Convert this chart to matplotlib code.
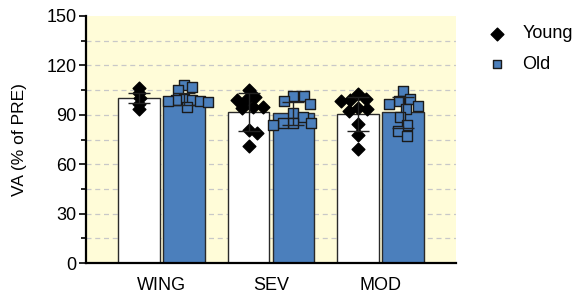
import numpy as np
import matplotlib.pyplot as plt

plt.rcParams['font.family'] = ['Liberation Sans', 'DejaVu Sans']

# Data
groups = ['WING', 'SEV', 'MOD']
young_mean = [100, 91.5, 90.5]
young_sd = [3, 11.5, 10.5]
old_mean = [99.5, 91, 91.5]
old_sd = [3.5, 7, 9.5]

young_pts = [
    [106.5, 103.2, 100, 96.8, 93.5],
    [105, 101, 99, 99, 95, 95, 94, 81, 79, 71],
    [102.4, 99.6, 99, 98.4, 94.3, 93.5, 92.3, 84.2, 77.7, 69.2],
]
old_pts = [
    [108, 107, 105, 99.6, 99, 99, 98.4, 98.4, 98, 95],
    [101.6, 101.6, 98.4, 96.3, 91.3, 88.9, 84.8, 84.8, 84.8, 83.8],
    [104.4, 99.6, 98.4, 96.3, 95.5, 93.5, 88.5, 83.8, 80.1, 77.1],
]

blue = '#4b7fbc'
bar_w = 0.38
off = 0.205
px_x = 109.5   # pixels per x unit
px_y = 1.647   # pixels per y unit
# spacing of the scatter points (pixels), per group
d_young = [5.3, 9.5, 9.5]
d_old = [8.0, 10.5, 10.5]


def swarm(vals, d=5.3):
    # beeswarm: each point goes to the nearest free x offset (in pixels)
    placed = []
    for v in vals:
        yp = v * px_y
        cands = [0.0]
        for xq, yq in placed:
            dy = abs(yp - yq)
            if dy < d:
                dx = np.sqrt(d * d - dy * dy)
                cands += [xq + dx, xq - dx]
        cands.sort(key=abs)
        for c in cands:
            if all((c - xq) ** 2 + (yp - yq) ** 2 >= d * d - 1e-6 for xq, yq in placed):
                placed.append((c, yp))
                break
    return np.array([p[0] for p in placed]) / px_x


fig = plt.figure(figsize=(5.81, 2.96), dpi=100)
ax = fig.add_axes([86 / 581, 33 / 296, 370 / 581, 247 / 296])
ax.set_facecolor('#fffcd8')

x = np.arange(len(groups))
ax.bar(x - off, young_mean, bar_w, color='white', edgecolor='#2a2a2a', linewidth=1, zorder=2)
ax.bar(x + off, old_mean, bar_w, color=blue, edgecolor='#2a2a2a', linewidth=1, zorder=2)

for i in range(len(groups)):
    yv = np.array(young_pts[i])
    ov = np.array(old_pts[i])
    ax.scatter(x[i] - off + swarm(yv, d_young[i]), yv, marker='D', s=42, color='black', zorder=3)
    ax.scatter(x[i] + off + swarm(ov, d_old[i]), ov, marker='s', s=48, color=blue,
               edgecolor='#1a1a1a', linewidth=1, zorder=3)

ax.errorbar(x - off, young_mean, yerr=young_sd, fmt='none', ecolor='#222222',
            elinewidth=1, capsize=8, capthick=1, zorder=4)
ax.errorbar(x + off, old_mean, yerr=old_sd, fmt='none', ecolor='#222222',
            elinewidth=1, capsize=8, capthick=1, zorder=4)

for g in range(15, 150, 15):
    ax.axhline(g, color='#c8c8c8', linestyle=(0, (4, 3)), linewidth=0.9, zorder=1)

ax.set_xlim(-0.69, 2.69)
ax.set_ylim(0, 150)
ax.set_yticks(range(0, 151, 30))
ax.set_yticks(range(15, 150, 30), minor=True)
ax.set_xticks(x)
ax.set_xticklabels(groups, fontsize=13)
ax.tick_params(axis='x', length=0, pad=10)
ax.tick_params(axis='y', which='major', length=5, width=1.2, labelsize=13, pad=2)
ax.tick_params(axis='y', which='minor', length=3.5, width=1.2)
ax.set_ylabel('VA (% of PRE)', fontsize=12.5, labelpad=14)

for s in ['top', 'right']:
    ax.spines[s].set_visible(False)
for s in ['left', 'bottom']:
    ax.spines[s].set_linewidth(1.6)

h1 = ax.scatter([], [], marker='D', s=42, color='black')
h2 = ax.scatter([], [], marker='s', s=36, color=blue, edgecolor='#1a1a1a', linewidth=1)
fig.legend([h1, h2], ['Young', 'Old'], loc='upper left', bbox_to_anchor=(470 / 581, 1 - 9 / 296),
           frameon=False, fontsize=13, labelspacing=0.75, handletextpad=0.8, handlelength=1.2)

fig.savefig('out.png', dpi=100)
